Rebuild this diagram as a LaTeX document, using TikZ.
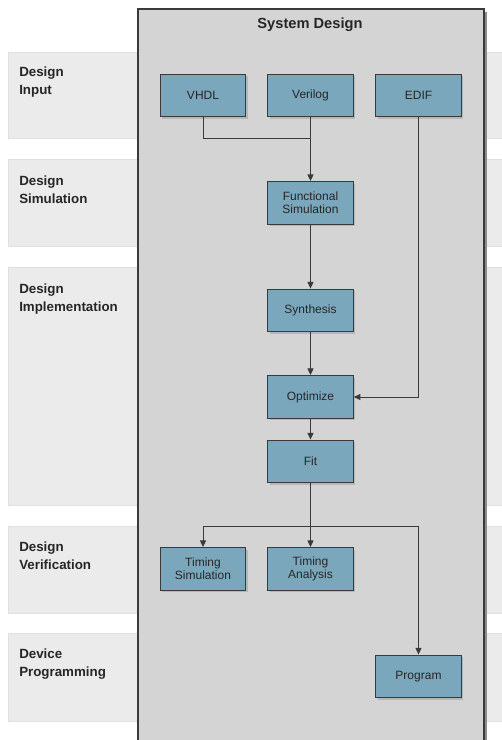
\documentclass[tikz,border=0pt]{standalone}
\usepackage{fontspec}
\setmainfont{Liberation Sans}
\usetikzlibrary{arrows.meta,shadows}
\definecolor{bandgray}{HTML}{EBEBEB}
\definecolor{panelgray}{HTML}{D4D4D4}
\definecolor{boxblue}{HTML}{7BA7BC}
\definecolor{edgegray}{HTML}{3A3A3A}
\tikzset{
  stage/.style={fill=bandgray, draw=black!12, line width=0.3pt},
  stagelabel/.style={anchor=north west, align=left, inner sep=0pt,
    font=\fontsize{10}{13.5}\selectfont\bfseries, text=black!85},
  task/.style={draw=edgegray, line width=0.9pt, fill=boxblue,
    minimum width=64pt, minimum height=32pt, inner sep=0pt, align=center,
    font=\fontsize{9}{9.75}\selectfont, text=black!85,
    drop shadow={shadow xshift=1.5pt, shadow yshift=-1.5pt, opacity=0.35}},
  flow/.style={-{Triangle[length=5pt,width=4.5pt]}, line width=0.75pt, draw=edgegray},
}

\begin{document}
\begin{tikzpicture}[x=0.75pt, y=-0.75pt]
\useasboundingbox (0,0) rectangle (502,740);

% stage bands
\path[stage] (8,52)  rectangle (510,138);
\path[stage] (8,159) rectangle (510,246);
\path[stage] (8,267) rectangle (510,505);
\path[stage] (8,526) rectangle (510,613);
\path[stage] (8,633) rectangle (510,721);

\node[stagelabel] (lblinput) at (19,67)  {Design\\Input};
\node[stagelabel] (lblsim)   at (19,176) {Design\\Simulation};
\node[stagelabel] (lblimpl)  at (19,284) {Design\\Implementation};
\node[stagelabel] (lblver)   at (19,542) {Design\\Verification};
\node[stagelabel] (lblprog)  at (19,649) {Device\\Programming};

% system design panel
\fill[black!45] (141,12) rectangle (487,745);
\draw[fill=panelgray, draw=edgegray, line width=0.9pt] (138,9) rectangle (484,745);
\node[font=\fontsize{11}{13}\selectfont\bfseries, text=black!85] (title) at (310,25) {System Design};

% tasks
\node[task] (vhdl)    at (203,95.5)   {VHDL};
\node[task] (verilog) at (310.5,95.5) {Verilog};
\node[task] (edif)    at (418.5,95.5) {EDIF};
\node[task] (funcsim) at (310.5,203)  {Functional\\Simulation};
\node[task] (synth)   at (310.5,310.5) {Synthesis};
\node[task] (optim)   at (310.5,397)  {Optimize};
\node[task] (fit)     at (310.5,461.5) {Fit};
\node[task] (timsim)  at (203,569)    {Timing\\Simulation};
\node[task] (timana)  at (310.5,569)  {Timing\\Analysis};
\node[task] (program) at (418.5,676.5) {Program};

% flow
\coordinate (merge) at (310.5,138);
\coordinate (split) at (310.5,526);
\draw[flow, -] (vhdl.south) |- (merge);
\draw[flow] (verilog.south) -- (funcsim.north);
\draw[flow] (funcsim.south) -- (synth.north);
\draw[flow] (synth.south) -- (optim.north);
\draw[flow] (edif.south) |- (optim.east);
\draw[flow] (optim.south) -- (fit.north);
\draw[flow] (fit.south) -- (timana.north);
\draw[flow] (split) -| (timsim.north);
\draw[flow] (split) -| (program.north);
\end{tikzpicture}
\end{document}
